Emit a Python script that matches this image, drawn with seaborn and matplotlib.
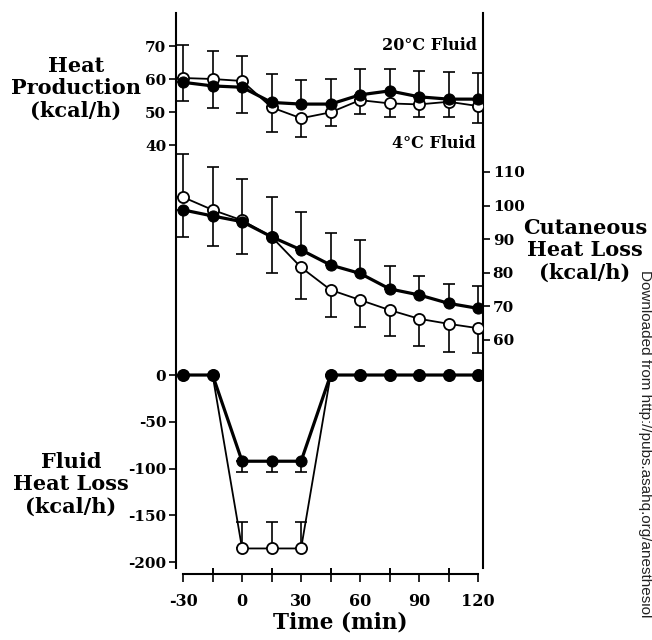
import numpy as np
import pandas as pd
import matplotlib
matplotlib.use("Agg")
import matplotlib.pyplot as plt
import seaborn as sns
from matplotlib.ticker import MultipleLocator

# ---------------- data ----------------
time = [-30, -15, 0, 15, 30, 45, 60, 75, 90, 105, 120]

# Heat production (kcal/h)
hp_filled = [59.0, 57.9, 57.5, 52.9, 52.4, 52.4, 55.2, 56.4, 54.6, 53.9, 53.9]
hp_open = [60.3, 60.0, 59.4, 51.4, 48.1, 49.9, 53.6, 52.6, 52.3, 53.1, 51.8]
hp_filled_up = [0, 0, 0, 8.6, 7.3, 7.6, 7.8, 6.6, 7.9, 8.3, 7.8]
hp_filled_dn = [5.6, 6.6, 7.9, 0, 0, 0, 0, 0, 0, 0, 0]
hp_open_up = [10.0, 8.5, 7.7, 0, 0, 0, 0, 0, 0, 0, 0]
hp_open_dn = [0, 0, 0, 7.6, 5.6, 4.0, 4.2, 4.0, 3.7, 4.7, 5.2]

# Cutaneous heat loss (kcal/h)
cu_filled = [98.7, 96.9, 95.2, 90.7, 86.8, 82.3, 79.8, 75.2, 73.4, 70.9, 69.4]
cu_open = [102.5, 98.7, 95.6, 90.7, 81.6, 74.9, 71.9, 68.9, 66.3, 64.8, 63.5]
cu_filled_up = [0, 0, 0, 0, 11.2, 9.4, 10.0, 6.9, 5.6, 5.7, 6.8]
cu_filled_dn = [8.0, 8.8, 9.6, 10.9, 0, 0, 0, 0, 0, 0, 0]
cu_open_up = [12.9, 12.7, 12.3, 11.8, 0, 0, 0, 0, 0, 0, 0]
cu_open_dn = [0, 0, 0, 0, 9.5, 8.0, 8.1, 7.6, 8.1, 8.3, 7.5]

# Fluid heat loss (kcal/h)
fl_filled = [0, 0, -92.2, -92.2, -92.2, 0, 0, 0, 0, 0, 0]
fl_open = [0, 0, -185.5, -185.5, -185.5, 0, 0, 0, 0, 0, 0]
fl_filled_dn = [0, 0, 11.0, 11.0, 11.0, 0, 0, 0, 0, 0, 0]
fl_open_up = [0, 0, 28.5, 28.5, 28.5, 0, 0, 0, 0, 0, 0]
fl_zero = [0] * 11

hp_ticks = [40, 50, 60, 70]
cu_ticks = [60, 70, 80, 90, 100, 110]
fl_ticks = [0, -50, -100, -150, -200]
x_ticks = [-30, 0, 30, 60, 90, 120]

# ---------------- style ----------------
sns.set_style("ticks")
plt.rcParams["font.family"] = ["DejaVu Serif"]
plt.rcParams["font.weight"] = "bold"
plt.rcParams["axes.unicode_minus"] = False
plt.rcParams["text.color"] = "black"
plt.rcParams["axes.edgecolor"] = "black"
plt.rcParams["xtick.color"] = "black"
plt.rcParams["ytick.color"] = "black"
plt.rcParams["xtick.labelcolor"] = "black"
plt.rcParams["ytick.labelcolor"] = "black"

fig = plt.figure(figsize=(6.52, 6.4), dpi=100)
rect = [176 / 652, 72 / 640, 307 / 652, 555 / 640]
ax_f = fig.add_axes(rect)
ax_c = fig.add_axes(rect, sharex=ax_f)
ax_h = fig.add_axes(rect, sharex=ax_f)
for a in (ax_f, ax_c, ax_h):
    a.set_facecolor("none")
    for s in a.spines.values():
        s.set_visible(False)
    a.tick_params(axis="both", which="both", length=5, width=1.2, color="black",
                  labelcolor="black", labelsize=11, pad=2)

ax_f.set_xlim(-33.6, 122.5)

def draw(ax, y_f, y_o, f_up, f_dn, o_up, o_dn):
    df = pd.DataFrame({"t": time, "f": y_f, "o": y_o})
    ax.errorbar(time, y_f, yerr=[f_dn, f_up], fmt="none", ecolor="black",
                elinewidth=1.2, capsize=4, capthick=1.2, zorder=2)
    ax.errorbar(time, y_o, yerr=[o_dn, o_up], fmt="none", ecolor="black",
                elinewidth=1.2, capsize=4, capthick=1.2, zorder=2)
    sns.lineplot(data=df, x="t", y="o", ax=ax, color="black", linewidth=1.3,
                 marker="o", markersize=8, markerfacecolor="white",
                 markeredgecolor="black", markeredgewidth=1.3, zorder=3)
    sns.lineplot(data=df, x="t", y="f", ax=ax, color="black", linewidth=2.3,
                 marker="o", markersize=8, markerfacecolor="black",
                 markeredgecolor="black", zorder=4)
    ax.set_xlabel("")
    ax.set_ylabel("")

# Heat production (top, left axis)
draw(ax_h, hp_filled, hp_open, hp_filled_up, hp_filled_dn, hp_open_up, hp_open_dn)
ax_h.set_ylim(-88.18, 80)
ax_h.set_yticks(hp_ticks)
ax_h.tick_params(axis="x", bottom=False, labelbottom=False)

# Cutaneous heat loss (middle, right axis)
draw(ax_c, cu_filled, cu_open, cu_filled_up, cu_filled_dn, cu_open_up, cu_open_dn)
ax_c.set_ylim(-7.86, 157.3)
ax_c.yaxis.tick_right()
ax_c.set_yticks(cu_ticks)
ax_c.spines["right"].set_visible(True)
ax_c.spines["right"].set_linewidth(1.5)
ax_c.tick_params(axis="x", bottom=False, labelbottom=False)

# Fluid heat loss (bottom, left axis)
draw(ax_f, fl_filled, fl_open, fl_zero, fl_filled_dn, fl_open_up, fl_zero)
ax_f.set_ylim(-206.4, 387.2)
ax_f.set_yticks(fl_ticks)
ax_f.spines["left"].set_visible(True)
ax_f.spines["left"].set_linewidth(1.5)
ax_f.spines["bottom"].set_visible(True)
ax_f.spines["bottom"].set_linewidth(1.5)
ax_f.spines["bottom"].set_position(("outward", 4))
ax_f.spines["bottom"].set_bounds(-30, 120)
ax_f.set_xticks(x_ticks)
ax_f.xaxis.set_minor_locator(MultipleLocator(15))
ax_f.tick_params(axis="x", which="both", direction="out", length=6, labelsize=11.5, pad=8)

for lab in ax_f.get_xticklabels() + ax_f.get_yticklabels() + ax_h.get_yticklabels() + ax_c.get_yticklabels():
    lab.set_fontweight("bold")

# ---------------- texts ----------------
W, H = 652, 640
def ftext(x, y, s, **kw):
    fig.text(x / W, 1 - y / H, s, **kw)

lab_kw = dict(ha="center", va="center", fontsize=15, fontweight="bold",
              linespacing=1.15)
ftext(76, 88, "Heat\nProduction\n(kcal/h)", **lab_kw)
ftext(71, 484, "Fluid\nHeat Loss\n(kcal/h)", **lab_kw)
ftext(585, 250, "Cutaneous\nHeat Loss\n(kcal/h)", **lab_kw)
ftext(477, 45, "20°C Fluid", ha="right", va="center", fontsize=11.5, fontweight="bold")
ftext(476, 143, "4°C Fluid", ha="right", va="center", fontsize=11.5, fontweight="bold")
ftext(340, 623, "Time (min)", ha="center", va="center", fontsize=15.5, fontweight="bold")
fig.text(645 / W, 1 - 270 / H, "Downloaded from http://pubs.asahq.org/anesthesiol",
         rotation=-90, ha="center", va="top", fontsize=11, fontweight="normal",
         family=["Liberation Sans"], color="#222222")

fig.savefig("out.png", dpi=100)
